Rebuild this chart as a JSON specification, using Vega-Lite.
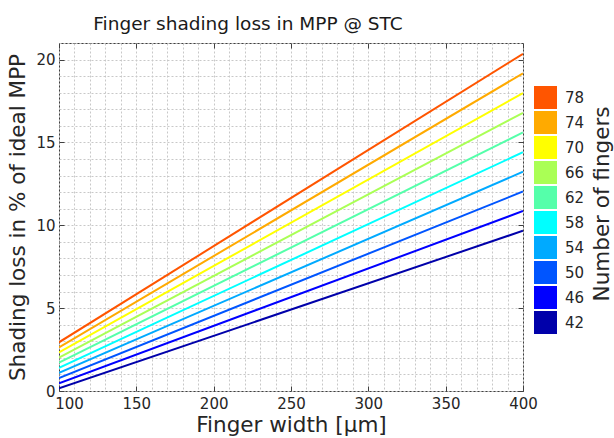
{
  "$schema": "https://vega.github.io/schema/vega-lite/v6.json",
  "autosize": "none",
  "width": 464,
  "height": 348,
  "padding": {"left": 59, "top": 43, "right": 91, "bottom": 47},
  "background": "white",
  "config": {
    "font": "DejaVu Sans",
    "view": {"stroke": "#404040", "strokeWidth": 1},
    "axis": {"labelColor": "#262626", "titleColor": "#262626", "labelFont": "DejaVu Sans", "titleFont": "DejaVu Sans", "titleFontWeight": "normal"}
  },
  "title": {"text": "Finger shading loss in MPP @ STC", "fontSize": 18.5, "fontWeight": "normal", "color": "#1a1a1a", "anchor": "middle", "frame": "group", "dx": -43, "offset": 3},
  "data": {"values": [
    {"fingers": 42, "w": 100, "loss": 0.16}, {"fingers": 42, "w": 400, "loss": 9.67},
    {"fingers": 46, "w": 100, "loss": 0.47}, {"fingers": 46, "w": 400, "loss": 10.86},
    {"fingers": 50, "w": 100, "loss": 0.78}, {"fingers": 50, "w": 400, "loss": 12.04},
    {"fingers": 54, "w": 100, "loss": 1.09}, {"fingers": 54, "w": 400, "loss": 13.23},
    {"fingers": 58, "w": 100, "loss": 1.40}, {"fingers": 58, "w": 400, "loss": 14.41},
    {"fingers": 62, "w": 100, "loss": 1.71}, {"fingers": 62, "w": 400, "loss": 15.60},
    {"fingers": 66, "w": 100, "loss": 2.02}, {"fingers": 66, "w": 400, "loss": 16.79},
    {"fingers": 70, "w": 100, "loss": 2.33}, {"fingers": 70, "w": 400, "loss": 17.98},
    {"fingers": 74, "w": 100, "loss": 2.63}, {"fingers": 74, "w": 400, "loss": 19.17},
    {"fingers": 78, "w": 100, "loss": 2.94}, {"fingers": 78, "w": 400, "loss": 20.35}
  ]},
  "resolve": {"axis": {"x": "independent", "y": "independent"}},
  "layer": [
    {
      "mark": {"type": "line", "strokeWidth": 2, "clip": true},
      "encoding": {
        "x": {"field": "w", "type": "quantitative", "scale": {"domain": [100, 400], "nice": false, "zero": false},
          "axis": {"orient": "bottom", "title": "Finger width [µm]", "titleFontSize": 21.5, "titlePadding": 3,
            "values": [100,110,120,130,140,150,160,170,180,190,200,210,220,230,240,250,260,270,280,290,300,310,320,330,340,350,360,370,380,390,400],
            "labelExpr": "datum.value % 50 === 0 ? datum.label : ''", "labelFontSize": 15, "labelOverlap": false, "labelPadding": 10, "labelFlush": false, "labelBound": false,
            "labelOffset": {"condition": {"test": "datum.value === 100", "value": 10}, "value": 0},
            "domain": false, "tickSize": -5, "tickColor": "#404040",
            "tickOpacity": {"condition": {"test": "datum.value % 50 === 0", "value": 1}, "value": 0},
            "grid": true, "gridColor": "#c8c8c8", "gridDash": [2, 2], "gridWidth": 1}},
        "y": {"field": "loss", "type": "quantitative", "scale": {"domain": [0, 21], "nice": false, "zero": false},
          "axis": {"orient": "left", "title": "Shading loss in % of ideal MPP", "titleFontSize": 21.5, "titlePadding": 6,
            "values": [0,1,2,3,4,5,6,7,8,9,10,11,12,13,14,15,16,17,18,19,20,21],
            "labelExpr": "datum.value % 5 === 0 ? datum.label : ''", "labelFontSize": 15, "labelOverlap": false, "labelPadding": 9, "labelFlush": false,
            "domain": false, "tickSize": -5, "tickColor": "#404040",
            "tickOpacity": {"condition": {"test": "datum.value % 5 === 0", "value": 1}, "value": 0},
            "grid": true, "gridColor": "#c8c8c8", "gridDash": [2, 2], "gridWidth": 1}},
        "color": {"field": "fingers", "type": "ordinal",
          "scale": {"domain": [78, 74, 70, 66, 62, 58, 54, 50, 46, 42],
            "range": ["#ff5500", "#ffaa00", "#ffff00", "#aaff55", "#55ffaa", "#00ffff", "#00aaff", "#0055ff", "#0000ff", "#0000aa"]},
          "legend": {"title": "Number of fingers", "orient": "none", "legendX": 475, "legendY": 43,
            "symbolType": "square", "symbolSize": 529, "symbolStrokeWidth": 0, "symbolOpacity": 1,
            "labelFontSize": 15, "labelColor": "#262626", "labelOffset": 8, "rowPadding": 2,
            "titleOrient": "right", "titleFontSize": 21.5, "titleFontWeight": "normal", "titleColor": "#262626", "titlePadding": 8, "titleAnchor": "middle", "titleLimit": 500,
            "encode": {
              "symbols": {"update": {"fill": {"scale": "color", "field": "value"}, "fillOpacity": {"value": 1}, "strokeWidth": {"value": 0}}},
              "title": {"update": {"angle": {"value": -90}, "align": {"value": "center"}, "baseline": {"value": "top"}, "dx": {"value": 6}}}}}}
      }
    },
    {
      "mark": {"type": "line", "opacity": 0},
      "encoding": {
        "x": {"field": "w", "type": "quantitative", "scale": {"domain": [100, 400], "nice": false, "zero": false},
          "axis": {"orient": "top", "title": null, "labels": false, "domain": false, "grid": false,
            "values": [100, 150, 200, 250, 300, 350, 400], "tickSize": -5, "tickColor": "#404040"}},
        "y": {"field": "loss", "type": "quantitative", "scale": {"domain": [0, 21], "nice": false, "zero": false},
          "axis": {"orient": "right", "title": null, "labels": false, "domain": false, "grid": false,
            "values": [0, 5, 10, 15, 20], "tickSize": -5, "tickColor": "#404040"}},
        "detail": {"field": "fingers", "type": "ordinal"}
      }
    }
  ]
}
